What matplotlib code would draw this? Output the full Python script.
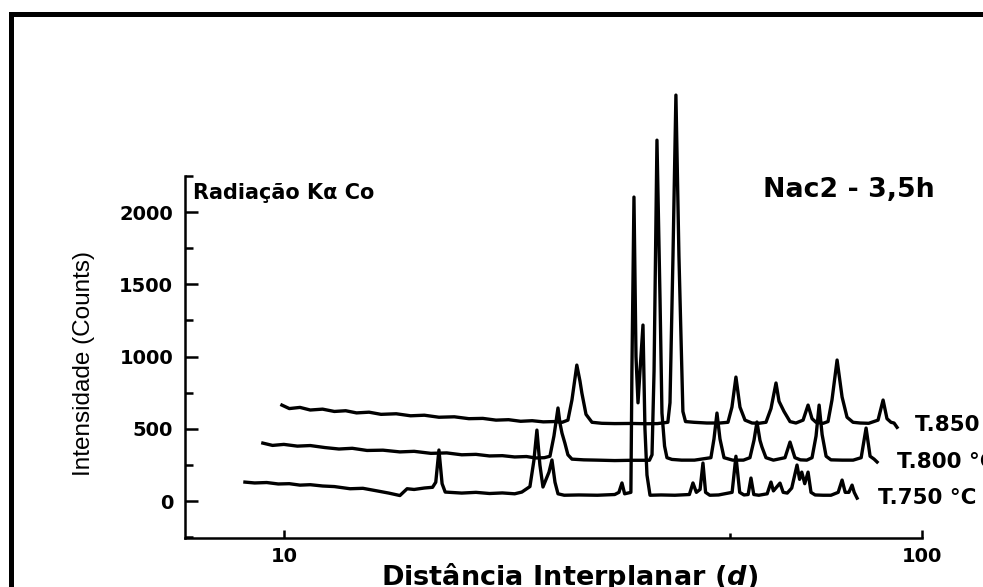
import numpy as np
import matplotlib
matplotlib.use('Agg')
import matplotlib.pyplot as plt
from matplotlib import font_manager
from matplotlib.lines import Line2D
from matplotlib.ticker import FixedLocator, FixedFormatter, NullFormatter

###########################################
##### Data
###########################################

## T.850 C
d850 = [9.93, 10.2, 10.6, 11.0, 11.5, 12.0, 12.5, 13.0, 13.6, 14.2,
        15.0, 15.8, 16.6, 17.5, 18.5, 19.5, 20.5, 21.5, 22.5, 23.5,
        24.5, 25.5, 26.5, 27.3, 27.87, 28.28, 28.78, 29.11, 29.31, 29.75,
        30.40, 31.5, 33.0, 35.0, 37.0, 38.5, 39.97, 40.28, 40.72, 41.15,
        41.60, 42.20, 42.6, 43.91, 46.0, 48.24, 49.65, 50.37, 51.10, 51.85,
        52.80, 54.15, 55.5, 56.95, 57.99, 59.05, 59.70, 60.78, 62.11, 63.45,
        65.11, 66.29, 67.25, 68.23, 70.0, 71.24, 72.27, 73.61, 74.95, 76.30,
        77.97, 80.0, 82.5, 85.33, 86.90, 88.13, 89.42, 90.40, 91.39]
i850 = [664, 640, 648, 630, 636, 620, 625, 610, 615, 600,
        604, 590, 594, 580, 583, 570, 572, 560, 563, 552,
        556, 548, 550, 545, 560, 700, 941, 830, 747, 600,
        545, 538, 536, 537, 535, 536, 545, 680, 1700, 2810,
        1700, 620, 550, 545, 540, 540, 545, 650, 858, 650,
        560, 540, 538, 545, 640, 817, 690, 620, 550, 540,
        560, 664, 570, 545, 538, 550, 700, 976, 720, 580,
        545, 540, 538, 560, 699, 570, 545, 540, 510]

## T.800 C
d800 = [9.27, 9.6, 10.0, 10.5, 11.0, 11.6, 12.2, 12.8, 13.5, 14.3,
        15.2, 16.0, 17.0, 18.0, 19.0, 20.0, 21.0, 22.0, 23.0, 24.0,
        24.8, 25.6, 26.12, 26.50, 26.89, 27.08, 27.28, 27.57, 27.87, 28.28,
        29.5, 31.0, 33.0, 35.0, 37.4, 37.75, 38.03, 38.43, 38.86, 39.13,
        39.5, 39.84, 40.56, 42.0, 44.0, 46.69, 47.21, 47.72, 48.24, 48.95, 50.5,
        52.5, 53.75, 54.54, 55.13, 55.73, 56.13, 56.95, 58.5, 61.00, 62.11,
        63.22, 64.5, 66.0, 67.25, 68.23, 68.99, 69.74, 70.75, 72.0, 75.0,
        78.0, 80.29, 81.73, 82.92, 84.12, 85.04]
i800 = [401, 385, 392, 380, 384, 370, 360, 365, 350, 352,
        340, 344, 330, 333, 320, 323, 312, 314, 305, 308,
        298, 300, 310, 450, 644, 540, 470, 400, 320, 290,
        285, 283, 280, 282, 282, 320, 900, 2498, 1390, 609,
        380, 300, 288, 283, 283, 300, 430, 609, 430, 300, 283,
        283, 300, 420, 547, 420, 374, 300, 283, 300, 408,
        300, 285, 283, 300, 450, 664, 460, 310, 285, 283,
        283, 300, 505, 310, 290, 270]

## T.750 C
d750 = [8.69, 9.0, 9.4, 9.8, 10.2, 10.6, 11.0, 11.5, 12.0, 12.7,
        13.3, 14.0, 14.6, 15.2, 15.6, 16.0, 16.6, 17.1, 17.30, 17.50,
        17.70, 17.9, 19.0, 20.0, 21.0, 22.0, 23.0, 23.6, 24.30, 24.65,
        24.92, 25.19, 25.47, 26.03, 26.31, 26.60, 26.89, 27.5, 29.0, 31.0,
        33.0, 33.5, 33.87, 34.2, 34.98, 35.11, 35.37, 35.63, 35.89, 36.15,
        36.54, 36.80, 37.07, 37.48, 39.0, 41.0, 43.2, 43.76, 44.3, 44.9,
        45.37, 45.8, 46.5, 48.0, 50.4, 51.10, 51.8, 52.6, 53.4, 53.95,
        54.5, 55.5, 57.2, 57.99, 58.5, 59.91, 60.6, 61.5, 62.5, 63.70,
        64.3, 64.8, 65.5, 66.29, 67.0, 68.0, 70.0, 72.0, 73.9, 74.95,
        75.8, 76.8, 77.70, 78.3, 79.12]
i750 = [131, 125, 128, 118, 120, 110, 113, 104, 100, 85,
        88, 70, 55, 38, 85, 80, 90, 95, 130, 353,
        120, 62, 55, 60, 52, 56, 50, 62, 100, 280,
        491, 250, 97, 200, 284, 130, 50, 40, 42, 40,
        45, 60, 125, 50, 60, 900, 2104, 1000, 680, 900,
        1218, 500, 180, 40, 42, 40, 45, 125, 60, 80,
        263, 60, 40, 42, 60, 310, 60, 42, 45, 159,
        45, 40, 50, 131, 70, 124, 60, 55, 90, 249,
        150, 200, 120, 200, 60, 42, 40, 40, 60, 145,
        60, 60, 110, 60, 20]

series = [(d850, i850, 'T.850 \u00b0C'), (d800, i800, 'T.800 \u00b0C'), (d750, i750, 'T.750 \u00b0C')]

xticks = [10, 100]
xticklabels = ['10', '100']
yticks = [0, 500, 1000, 1500, 2000]

###########################################
##### Figure
###########################################

plt.rcParams['font.family'] = 'DejaVu Sans'
plt.rcParams['mathtext.fontset'] = 'custom'
plt.rcParams['mathtext.rm'] = 'DejaVu Sans:bold'
plt.rcParams['mathtext.it'] = 'DejaVu Sans:italic:bold'

W, H = 983, 587
fig = plt.figure(figsize=(W / 100, H / 100), dpi=100)
ax = fig.add_axes([185 / W, 49 / H, 737 / W, 362 / H])

for d, counts, name in series:
    ax.plot(d, counts, color='black', linewidth=2.4, clip_on=False, solid_joinstyle='round')

ax.set_xscale('log')
ax.set_xlim(7.0, 100)
ax.set_ylim(-256, 2250)

ax.xaxis.set_major_locator(FixedLocator(xticks))
ax.xaxis.set_major_formatter(FixedFormatter(xticklabels))
ax.xaxis.set_minor_locator(FixedLocator([50]))
ax.xaxis.set_minor_formatter(NullFormatter())
ax.yaxis.set_major_locator(FixedLocator(yticks))
ax.yaxis.set_minor_locator(FixedLocator([-250, 250, 750, 1250, 1750, 2250]))

ax.spines['top'].set_visible(False)
ax.spines['right'].set_visible(False)
for s in ['left', 'bottom']:
    ax.spines[s].set_linewidth(1.8)

ax.tick_params(axis='y', which='major', direction='in', length=9, width=1.8, pad=8.5, labelsize=14)
ax.tick_params(axis='y', which='minor', direction='in', length=5.5, width=1.8)
ax.tick_params(axis='x', which='major', direction='in', length=6, width=1.8, pad=6.5, labelsize=14)
ax.tick_params(axis='x', which='minor', direction='in', length=3.5, width=1.8)
for lab in ax.get_xticklabels() + ax.get_yticklabels():
    lab.set_fontweight('bold')

## y label: narrow font if there is one
names = {f.name for f in font_manager.fontManager.ttflist}
if 'Liberation Sans Narrow' in names:
    fig.text(84 / W, 1 - 363 / H, 'Intensidade (Counts)', rotation=90, ha='center', va='center',
             family='Liberation Sans Narrow', fontsize=21)
else:
    fig.text(84 / W, 1 - 363 / H, 'Intensidade (Counts)', rotation=90, ha='center', va='center',
             family='Liberation Sans', fontsize=17.5)

fig.text(569.5 / W, 1 - 585 / H, 'Distância Interplanar ($d$)', ha='center', va='baseline',
         fontsize=19.5, fontweight='bold')

fig.text(193 / W, 1 - 193 / H, 'Radiação K\u03b1 Co', ha='left', va='center', fontsize=15, fontweight='bold')
fig.text(849 / W, 1 - 190 / H, 'Nac2 - 3,5h', ha='center', va='center', fontsize=19.3, fontweight='bold')

label_pos = [(915, 425), (897, 462), (878, 498)]
for (d, counts, name), (px, py) in zip(series, label_pos):
    fig.text(px / W, 1 - py / H, name, ha='left', va='center', fontsize=15.5, fontweight='bold')

## thick frame round the picture (right and bottom sides are off the image)
x0 = 10.5 / W
y0 = 1 - 13.5 / H
fig.add_artist(Line2D([x0, x0, 1.05], [-0.05, y0, y0], transform=fig.transFigure,
                      color='black', linewidth=3.6, solid_joinstyle='miter', clip_on=False))

fig.savefig('out.png', dpi=100)
